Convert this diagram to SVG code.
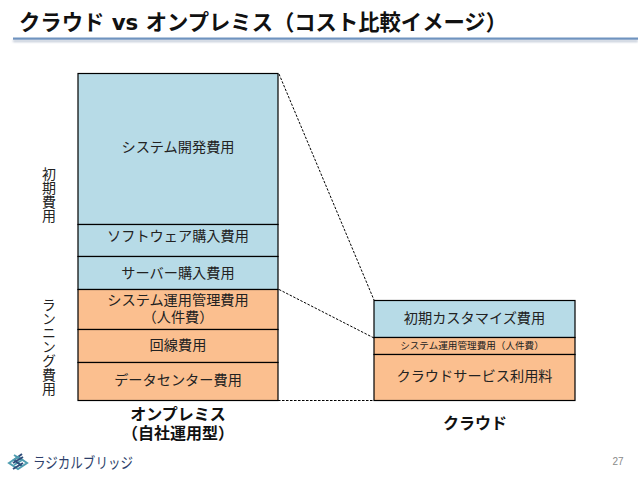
<svg xmlns="http://www.w3.org/2000/svg" width="638" height="479" viewBox="0 0 638 479">
<defs>
<filter id="sh" x="-1%" y="-100%" width="102%" height="400%"><feGaussianBlur stdDeviation="1"/></filter>
</defs>
<style>
text{font-family:"Noto Sans CJK JP","Noto Sans",sans-serif;fill:#222;text-anchor:middle}
.blue{fill:#b7dbe7;stroke:#000;stroke-width:1.2}
.orange{fill:#fbbf8f;stroke:#000;stroke-width:1.2}
.lbl{font-size:14.200px}
.head{font-size:16px;font-weight:700;fill:#111}
.side{font-size:14px;writing-mode:vertical-rl;text-anchor:start}
.conn{fill:none;stroke:#000;stroke-width:1;stroke-dasharray:2.5 1.5}
.m1{fill:none;stroke:#4f9db0;stroke-width:2}
.m2{fill:none;stroke:#2e4d7a;stroke-width:2}
</style>
<rect width="638" height="479" fill="#fff"/>
<g id="title">
<rect x="13" y="40" width="625" height="2" fill="#b9c3d2" filter="url(#sh)"/>
<rect x="13" y="37.500" width="625" height="2.200" fill="#6f93bf"/>
<text x="19" y="30" style="text-anchor:start;font-size:21.500px;font-weight:700;fill:#111;font-family:'DejaVu Sans','Noto Sans CJK JP',sans-serif" textLength="488" lengthAdjust="spacingAndGlyphs">クラウド vs オンプレミス（コスト比較イメージ）</text>
</g>
<g id="connectors">
<path class="conn" d="M279 74L374 300"/>
<path class="conn" d="M279 289.500L374 338"/>
<path class="conn" d="M278 400.500H374"/>
</g>
<g id="node-dev"><rect class="blue" x="78" y="73.500" width="200" height="151"/><text class="lbl" x="178" y="152">システム開発費用</text></g>
<g id="node-software"><rect class="blue" x="78" y="224.500" width="200" height="32"/><text class="lbl" x="178" y="241">ソフトウェア購入費用</text></g>
<g id="node-server"><rect class="blue" x="78" y="256.500" width="200" height="33"/><text class="lbl" x="178" y="277.500">サーバー購入費用</text></g>
<g id="node-ops"><rect class="orange" x="78" y="289.500" width="200" height="40"/><text class="lbl"><tspan x="178" y="305">システム運用管理費用</tspan><tspan x="178" y="322">（人件費）</tspan></text></g>
<g id="node-line"><rect class="orange" x="78" y="329.500" width="200" height="33"/><text class="lbl" x="178" y="350">回線費用</text></g>
<g id="node-dc"><rect class="orange" x="78" y="362.500" width="200" height="38"/><text class="lbl" x="178" y="385">データセンター費用</text></g>
<g id="node-custom"><rect class="blue" x="374" y="300.500" width="201" height="37"/><text class="lbl" x="474.500" y="323">初期カスタマイズ費用</text></g>
<g id="node-ops2"><rect class="orange" x="374" y="337.500" width="201" height="17"/><text x="472" y="349" style="font-size:9.600px">システム運用管理費用（人件費）</text></g>
<g id="node-cloud"><rect class="orange" x="374" y="354.500" width="201" height="46"/><text class="lbl" x="474.500" y="381">クラウドサービス利用料</text></g>
<g id="label-initial"><text class="side" x="49" y="167">初期費用</text></g>
<g id="label-running"><text class="side" x="49" y="298">ランニング費用</text></g>
<g id="label-onprem"><text class="head"><tspan x="178" y="420">オンプレミス</tspan><tspan x="178" y="439">（自社運用型）</tspan></text></g>
<g id="label-cloud"><text class="head" x="475" y="429">クラウド</text></g>
<g id="logo">
<path class="m1" d="M14 455L22 460L14 465"/>
<path class="m2" d="M22 454L14 460L22 466"/>
<path class="m1" d="M9 463L18 457L27 463L18 469Z"/>
<path class="m2" d="M13 463L23 457M13 469L23 463"/>
<text x="33" y="468" style="text-anchor:start;font-size:15px;fill:#2d3f6b" textLength="100" lengthAdjust="spacingAndGlyphs">ラジカルブリッジ</text>
</g>
<g id="page"><text x="618" y="465" style="font-size:10px;fill:#8a8a8a;font-family:'Liberation Sans',sans-serif">27</text></g>
</svg>
